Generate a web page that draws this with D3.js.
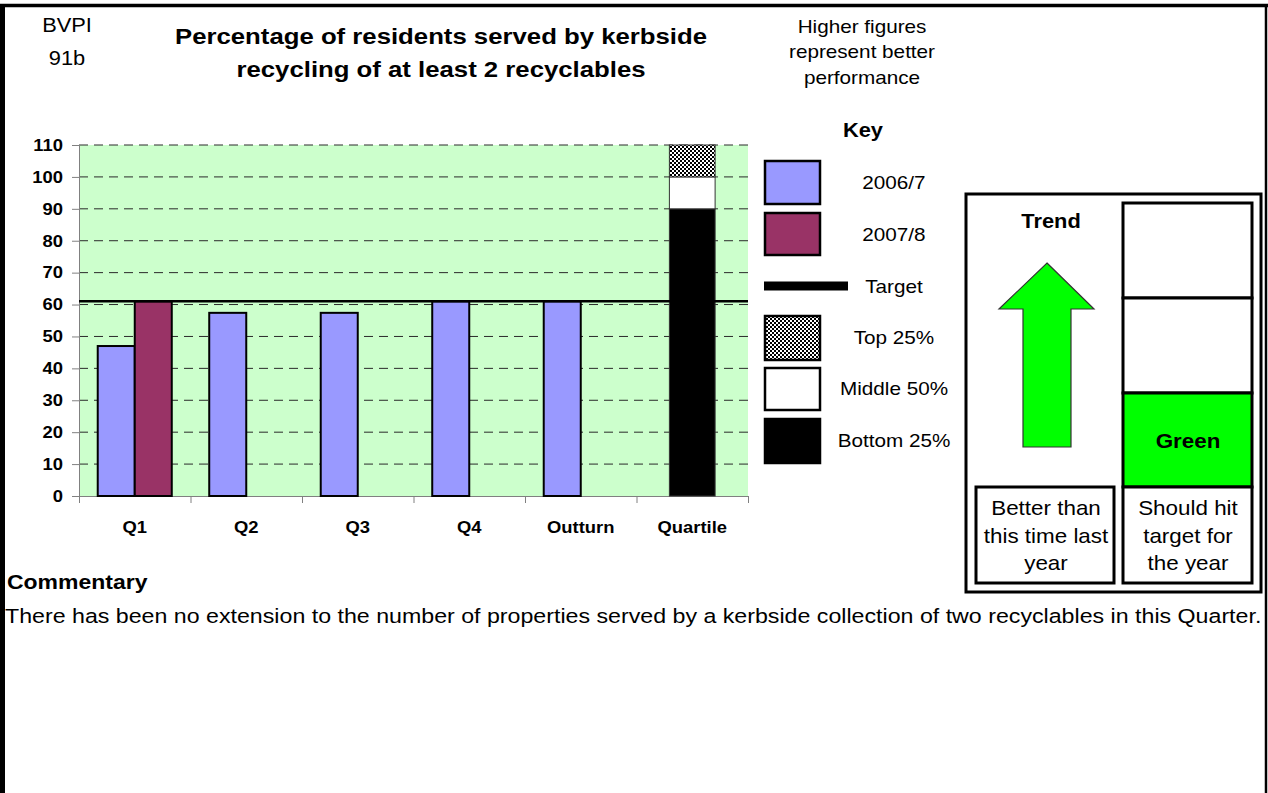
<!DOCTYPE html>
<html>
<head>
<meta charset="utf-8">
<script src="https://cdn.jsdelivr.net/npm/d3@7"></script>
<style>
  html, body { margin: 0; padding: 0; background: #fff; }
  svg { display: block; font-family: "Liberation Sans", Arial, sans-serif; }
</style>
</head>
<body>
<svg id="chart" width="1268" height="793"></svg>
<script>
// ---- data ----
const categories = ["Q1", "Q2", "Q3", "Q4", "Outturn", "Quartile"];
const periodCategories = ["Q1", "Q2", "Q3", "Q4", "Outturn"];
const seriesNames = ["2006/7", "2007/8"];
const values2006 = [47, 57.4, 57.4, 61, 61];
const values2007 = [61, null, null, null, null];
const targetValue = 61;
const quartileNames = ["Bottom 25%", "Middle 50%", "Top 25%"];
const quartileBands = [90, 10, 10];
const yTicks = [0, 10, 20, 30, 40, 50, 60, 70, 80, 90, 100, 110];

// ---- styling ----
const SX = 1.1;                       // horizontal text stretch
const FS = 1.045;                     // font size factor
const colBlue = "#9999FF", colMaroon = "#993366", colPlot = "#CCFFCC";
const colArrow = "#00FF00";

const svg = d3.select("#chart");

// checker pattern for the top quartile
const defs = svg.append("defs");
const pat = defs.append("pattern").attr("id", "checker")
  .attr("width", 4).attr("height", 4).attr("patternUnits", "userSpaceOnUse");
pat.append("rect").attr("width", 4).attr("height", 4).attr("fill", "#fff");
pat.append("rect").attr("width", 2).attr("height", 2).attr("fill", "#000");
pat.append("rect").attr("x", 2).attr("y", 2).attr("width", 2).attr("height", 2).attr("fill", "#000");

function label(x, y, text, o = {}) {
  return svg.append("text")
    .attr("transform", `translate(${x},${y}) scale(${o.sx || SX},1)`)
    .attr("text-anchor", o.anchor || "middle")
    .attr("font-size", (o.size || 18) * FS)
    .attr("font-weight", o.bold ? "bold" : "normal")
    .attr("fill", "#000")
    .text(text);
}

// ---- page frame ----
svg.append("line").attr("x1", 2.5).attr("x2", 2.5).attr("y1", 4).attr("y2", 793)
  .attr("stroke", "#000").attr("stroke-width", 5);
svg.append("line").attr("x1", 0).attr("x2", 1268).attr("y1", 5.5).attr("y2", 5.5)
  .attr("stroke", "#000").attr("stroke-width", 3.5);
svg.append("line").attr("x1", 1266).attr("x2", 1266).attr("y1", 4).attr("y2", 793)
  .attr("stroke", "#000").attr("stroke-width", 2.5);

// ---- header ----
label(67, 32, "BVPI", { size: 19 });
label(67, 65, "91b", { size: 19 });
label(441, 44, "Percentage of residents served by kerbside", { size: 22, bold: true, sx: 1.12 });
label(441, 77, "recycling of at least 2 recyclables", { size: 22, bold: true, sx: 1.12 });
label(862, 33, "Higher figures", { size: 18 });
label(862, 58, "represent better", { size: 18 });
label(862, 84, "performance", { size: 18 });

// ---- chart ----
const plot = { left: 79, right: 748, top: 145, bottom: 496 };
const y = d3.scaleLinear().domain([0, 110]).range([plot.bottom, plot.top]);
const x0 = d3.scaleBand().domain(categories).range([plot.left, plot.right]).padding(0);
const groupW = x0.bandwidth() * 0.664;
const x1 = d3.scaleBand().domain(seriesNames).range([0, groupW]).padding(0);
const quartileW = x0.bandwidth() * 0.41;

const g = svg.append("g");
g.append("rect").attr("x", plot.left).attr("y", plot.top)
  .attr("width", plot.right - plot.left).attr("height", plot.bottom - plot.top)
  .attr("fill", colPlot);

// dashed gridlines
g.append("g").selectAll("line").data(yTicks.filter(d => d > 0)).join("line")
  .attr("x1", plot.left).attr("x2", plot.right)
  .attr("y1", d => y(d)).attr("y2", d => y(d))
  .attr("stroke", "#2a2a2a").attr("stroke-width", 1).attr("stroke-dasharray", "9,6");

// y axis
const yAxis = g.append("g").attr("transform", `translate(${plot.left},0)`)
  .call(d3.axisLeft(y).tickValues(yTicks).tickSize(7).tickPadding(0));
yAxis.select(".domain").attr("stroke", "#808080");
yAxis.selectAll(".tick line").attr("stroke", "#808080");
yAxis.selectAll(".tick text")
  .attr("x", -16 / SX).attr("transform", `scale(${SX},1)`)
  .attr("font-size", 16 * FS).attr("font-weight", "bold").attr("fill", "#000")
  .attr("font-family", "Liberation Sans, Arial, sans-serif");

// x axis: ticks at band edges, labels at band centres
const xEdge = d3.scaleLinear().domain([0, categories.length]).range([plot.left, plot.right]);
const xAxisEdge = g.append("g").attr("transform", `translate(0,${plot.bottom})`)
  .call(d3.axisBottom(xEdge).ticks(categories.length).tickSize(7).tickFormat(""));
xAxisEdge.select(".domain").attr("stroke", "#808080");
xAxisEdge.selectAll(".tick line").attr("stroke", "#808080");
const xAxisLab = g.append("g").attr("transform", `translate(0,${plot.bottom})`)
  .call(d3.axisBottom(x0).tickSize(0).tickPadding(25));
xAxisLab.select(".domain").remove();
xAxisLab.selectAll(".tick text")
  .attr("transform", `scale(${SX},1)`)
  .attr("font-size", 16 * FS).attr("font-weight", "bold").attr("fill", "#000")
  .attr("font-family", "Liberation Sans, Arial, sans-serif");

// grouped bars
const barData = [];
periodCategories.forEach((c, i) => {
  [values2006[i], values2007[i]].forEach((v, s) => {
    if (v != null) barData.push({ cat: c, series: seriesNames[s], value: v });
  });
});
g.append("g").selectAll("rect").data(barData).join("rect")
  .attr("x", d => x0(d.cat) + (x0.bandwidth() - groupW) / 2 + x1(d.series))
  .attr("width", x1.bandwidth())
  .attr("y", d => y(d.value))
  .attr("height", d => y(0) - y(d.value))
  .attr("fill", d => d.series === seriesNames[0] ? colBlue : colMaroon)
  .attr("stroke", "#000").attr("stroke-width", 2);

// quartile stack
const qStack = [];
let acc = 0;
quartileBands.forEach((v, i) => { qStack.push({ name: quartileNames[i], y0: acc, y1: acc + v }); acc += v; });
const qFill = { "Bottom 25%": "#000", "Middle 50%": "#fff", "Top 25%": "url(#checker)" };
g.append("g").selectAll("rect").data(qStack).join("rect")
  .attr("x", x0("Quartile") + (x0.bandwidth() - quartileW) / 2)
  .attr("width", quartileW)
  .attr("y", d => y(d.y1))
  .attr("height", d => y(d.y0) - y(d.y1))
  .attr("fill", d => qFill[d.name])
  .attr("stroke", "#333").attr("stroke-width", 1);

// target line
g.append("line").attr("x1", plot.left).attr("x2", plot.right)
  .attr("y1", y(targetValue)).attr("y2", y(targetValue))
  .attr("stroke", "#000").attr("stroke-width", 2.5);

// ---- key ----
label(863, 137, "Key", { size: 19, bold: true });
const keyItems = [
  { name: seriesNames[0], type: "box", fill: colBlue, y: 160, h: 45, ty: 189 },
  { name: seriesNames[1], type: "box", fill: colMaroon, y: 212, h: 44, ty: 241 },
  { name: "Target", type: "line", y: 286, ty: 293 },
  { name: quartileNames[2], type: "box", fill: "url(#checker)", y: 315, h: 46, ty: 344 },
  { name: quartileNames[1], type: "box", fill: "#fff", y: 367, h: 44, ty: 395 },
  { name: quartileNames[0], type: "box", fill: "#000", y: 418, h: 46, ty: 447 }
];
keyItems.forEach(k => {
  if (k.type === "box") {
    svg.append("rect").attr("x", 765).attr("y", k.y + 1).attr("width", 55).attr("height", k.h - 2)
      .attr("fill", k.fill).attr("stroke", "#000").attr("stroke-width", 2.5);
  } else {
    svg.append("line").attr("x1", 764).attr("x2", 848).attr("y1", k.y).attr("y2", k.y)
      .attr("stroke", "#000").attr("stroke-width", 9);
  }
  label(894, k.ty, k.name, { size: 18 });
});

// ---- trend / status panel ----
const box = (x, yy, w, h, fill, sw) => svg.append("rect").attr("x", x).attr("y", yy)
  .attr("width", w).attr("height", h).attr("fill", fill || "none")
  .attr("stroke", "#000").attr("stroke-width", sw || 3);
box(966, 194, 295, 398, "#fff", 3);
box(1123, 203, 129, 95, "#fff");
box(1123, 298, 129, 95, "#fff");
box(1123, 393, 129, 94, colArrow);
box(1123, 487, 129, 96, "#fff");
box(976, 487, 138, 96, "#fff");
label(1051, 228, "Trend", { size: 19, bold: true });
const arrow = [[1047, 263], [1094, 309], [1071, 309], [1071, 447], [1023, 447], [1023, 309], [999, 309]];
svg.append("polygon").attr("points", arrow.map(p => p.join(",")).join(" "))
  .attr("fill", colArrow).attr("stroke", "#333").attr("stroke-width", 1.2);
label(1188, 448, "Green", { size: 19.5, bold: true });
["Better than", "this time last", "year"].forEach((t, i) =>
  label(1046, [515, 543, 570][i], t, { size: 19.5 }));
["Should hit", "target for", "the year"].forEach((t, i) =>
  label(1188, [515, 543, 570][i], t, { size: 19.5 }));

// ---- commentary ----
label(7, 589, "Commentary", { size: 20, bold: true, anchor: "start" });
label(5, 623, "There has been no extension to the number of properties served by a kerbside collection of two recyclables in this Quarter.",
  { size: 20, anchor: "start", sx: 1.11 });
</script>
</body>
</html>
